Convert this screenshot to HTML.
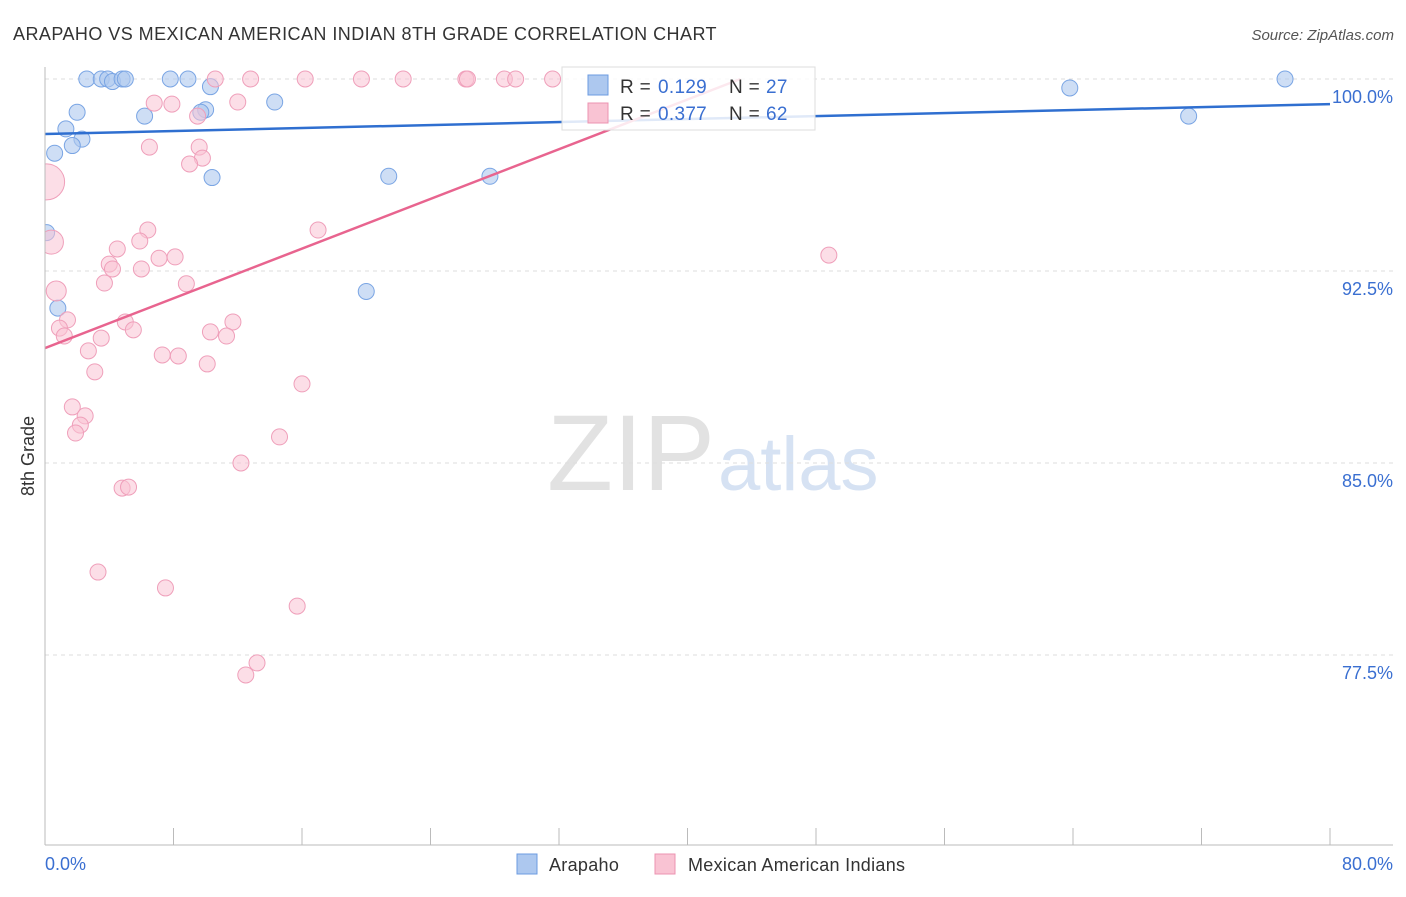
<!DOCTYPE html>
<html><head><meta charset="utf-8">
<style>
body{margin:0;background:#fff;font-family:"Liberation Sans",sans-serif;}
svg text{font-family:"Liberation Sans",sans-serif;}
</style></head>
<body>
<svg id="chart" width="1406" height="892" xmlns="http://www.w3.org/2000/svg">
<defs><clipPath id="plotclip"><rect x="45" y="40" width="1360" height="805"/></clipPath></defs>
<text x="13" y="40" font-size="18" fill="#333" letter-spacing="0.45">ARAPAHO VS MEXICAN AMERICAN INDIAN 8TH GRADE CORRELATION CHART</text>
<text x="1394" y="40" font-size="15" fill="#555" font-style="italic" text-anchor="end">Source: ZipAtlas.com</text>
<text x="715" y="490" font-size="108" fill="#e2e2e2" font-family="Liberation Serif" text-anchor="end">ZIP</text>
<text x="718" y="490" font-size="76" fill="#d6e2f3">atlas</text>
<text transform="translate(34,456) rotate(-90)" font-size="18" fill="#333" text-anchor="middle">8th Grade</text>
<g id="grid"></g>
<g id="marks" clip-path="url(#plotclip)"></g>
<line x1="45" y1="67" x2="45" y2="845" stroke="#bbb"/>
<line x1="45" y1="845" x2="1393" y2="845" stroke="#bbb"/>
<text x="45" y="870" font-size="18" fill="#3a6fd1">0.0%</text>
<text x="1393" y="870" font-size="18" fill="#3a6fd1" text-anchor="end">80.0%</text>
<g>
<rect x="562" y="67" width="253" height="63" fill="#fff" fill-opacity="0.85" stroke="#ddd"/>
<rect x="588" y="75" width="20" height="20" fill="#adc8ef" stroke="#6c9be0"/>
<rect x="588" y="103" width="20" height="20" fill="#f9c3d3" stroke="#ec93b0"/>
<text x="620" y="93" font-size="19" fill="#333" letter-spacing="0.3">R = <tspan x="658" fill="#3a6fd1">0.129</tspan><tspan x="729">N = </tspan><tspan x="766" fill="#3a6fd1">27</tspan></text>
<text x="620" y="120" font-size="19" fill="#333" letter-spacing="0.3">R = <tspan x="658" fill="#3a6fd1">0.377</tspan><tspan x="729">N = </tspan><tspan x="766" fill="#3a6fd1">62</tspan></text>
</g>
<g>
<rect x="517" y="854" width="20" height="20" fill="#adc8ef" stroke="#6c9be0"/>
<text x="549" y="871" font-size="18" fill="#333" letter-spacing="0.3">Arapaho</text>
<rect x="655" y="854" width="20" height="20" fill="#f9c3d3" stroke="#ec93b0"/>
<text x="688" y="871" font-size="18" fill="#333" letter-spacing="0.3">Mexican American Indians</text>
</g>
</svg>
<script>
const yTicks=[100,92.5,85,77.5];
const yTickLabels=["100.0%","92.5%","85.0%","77.5%"];
const xTicks=[0,8,16,24,32,40,48,56,64,72,80];
const arapahoX=[2.6,3.5,3.9,4.2,4.8,5.0,7.8,8.9,10.3,2.0,6.2,10.0,14.3,1.3,2.3,1.7,0.6,10.4,21.4,27.7,0.1,0.8,20.0,63.8,71.2,77.2,9.7];
const arapahoY=[100,100,100,99.9,100,100,100,100,99.7,98.7,98.55,98.8,99.1,98.05,97.65,97.4,97.1,96.15,96.2,96.2,94.0,91.05,91.7,99.65,98.55,100,98.7];
const mexX=[10.6,12.8,16.2,19.7,22.3,26.2,26.3,28.6,29.3,31.6,6.8,7.9,12.0,9.5,6.5,9.6,9.8,9.0,0.1,6.4,17.0,48.8,0.4,5.9,4.5,4.0,4.2,6.0,7.1,8.1,3.7,8.8,0.7,1.4,0.9,1.2,5.0,5.5,11.7,10.3,11.3,3.5,2.7,7.3,8.3,10.1,3.1,16.0,1.7,2.5,2.2,1.9,14.6,12.2,4.8,5.2,3.3,7.5,15.7,13.2,12.5];
const mexY=[100,100,100,100,100,100,100,100,100,100,99.06,99.02,99.1,98.55,97.34,97.34,96.91,96.68,95.98,94.1,94.1,93.12,93.63,93.67,93.36,92.77,92.58,92.58,93.0,93.05,92.03,92.0,91.72,90.59,90.27,89.96,90.51,90.2,90.51,90.12,89.96,89.88,89.38,89.22,89.18,88.87,88.56,88.09,87.19,86.84,86.48,86.17,86.02,85.0,84.02,84.06,80.74,80.12,79.41,77.19,76.72];
const mexSize=[8,8,8,8,8,8,8,8,8,8,8,8,8,8,8,8,8,8,18,8,8,8,12,8,8,8,8,8,8,8,8,8,10,8,8,8,8,8,8,8,8,8,8,8,8,8,8,8,8,8,8,8,8,8,8,8,8,8,8,8,8];
const arapahoTrend=[[0,97.85],[80,99.02]];
const mexTrend=[[0,89.49],[43.3,100]];
const sx=v=>45+v*(1285/80);
const sy=v=>79+(100-v)*25.6;
const NS="http://www.w3.org/2000/svg";
const grid=document.getElementById('grid'),marks=document.getElementById('marks');
function mk(t,a,p){const e=document.createElementNS(NS,t);for(const k in a)e.setAttribute(k,a[k]);p.appendChild(e);return e;}
yTicks.forEach((v,i)=>{
 const l=mk('line',{x1:45,x2:1393,y1:sy(v),y2:sy(v),stroke:'#ddd','stroke-dasharray':'4,4'},grid);
 
 
 const t=mk('text',{x:1393,y:sy(v)+24,'font-size':18,fill:'#3a6fd1','text-anchor':'end'},grid);
 t.textContent=yTickLabels[i];
 
 
});
xTicks.forEach(v=>{
 const l=mk('line',{x1:sx(v),x2:sx(v),y1:828,y2:845,stroke:'#bbb'},grid);
 
 
});
arapahoX.forEach((x,i)=>{
 const c=mk('circle',{cx:sx(x),cy:sy(arapahoY[i]),r:8,fill:'#adc8ef','fill-opacity':0.6,stroke:'#7aa5e4','stroke-width':1},marks);
 
 
});
mexX.forEach((x,i)=>{
 const c=mk('circle',{cx:sx(x),cy:sy(mexY[i]),r:mexSize[i],fill:'#f9c3d3','fill-opacity':0.55,stroke:'#ef9fba','stroke-width':1},marks);
 
 
});
const t1=mk('line',{x1:sx(arapahoTrend[0][0]),y1:sy(arapahoTrend[0][1]),x2:sx(arapahoTrend[1][0]),y2:sy(arapahoTrend[1][1]),stroke:'#2f6fd0','stroke-width':2.5},marks);


const t2=mk('line',{x1:sx(mexTrend[0][0]),y1:sy(mexTrend[0][1]),x2:sx(mexTrend[1][0]),y2:sy(mexTrend[1][1]),stroke:'#e8648f','stroke-width':2.5},marks);


</script>
</body></html>
